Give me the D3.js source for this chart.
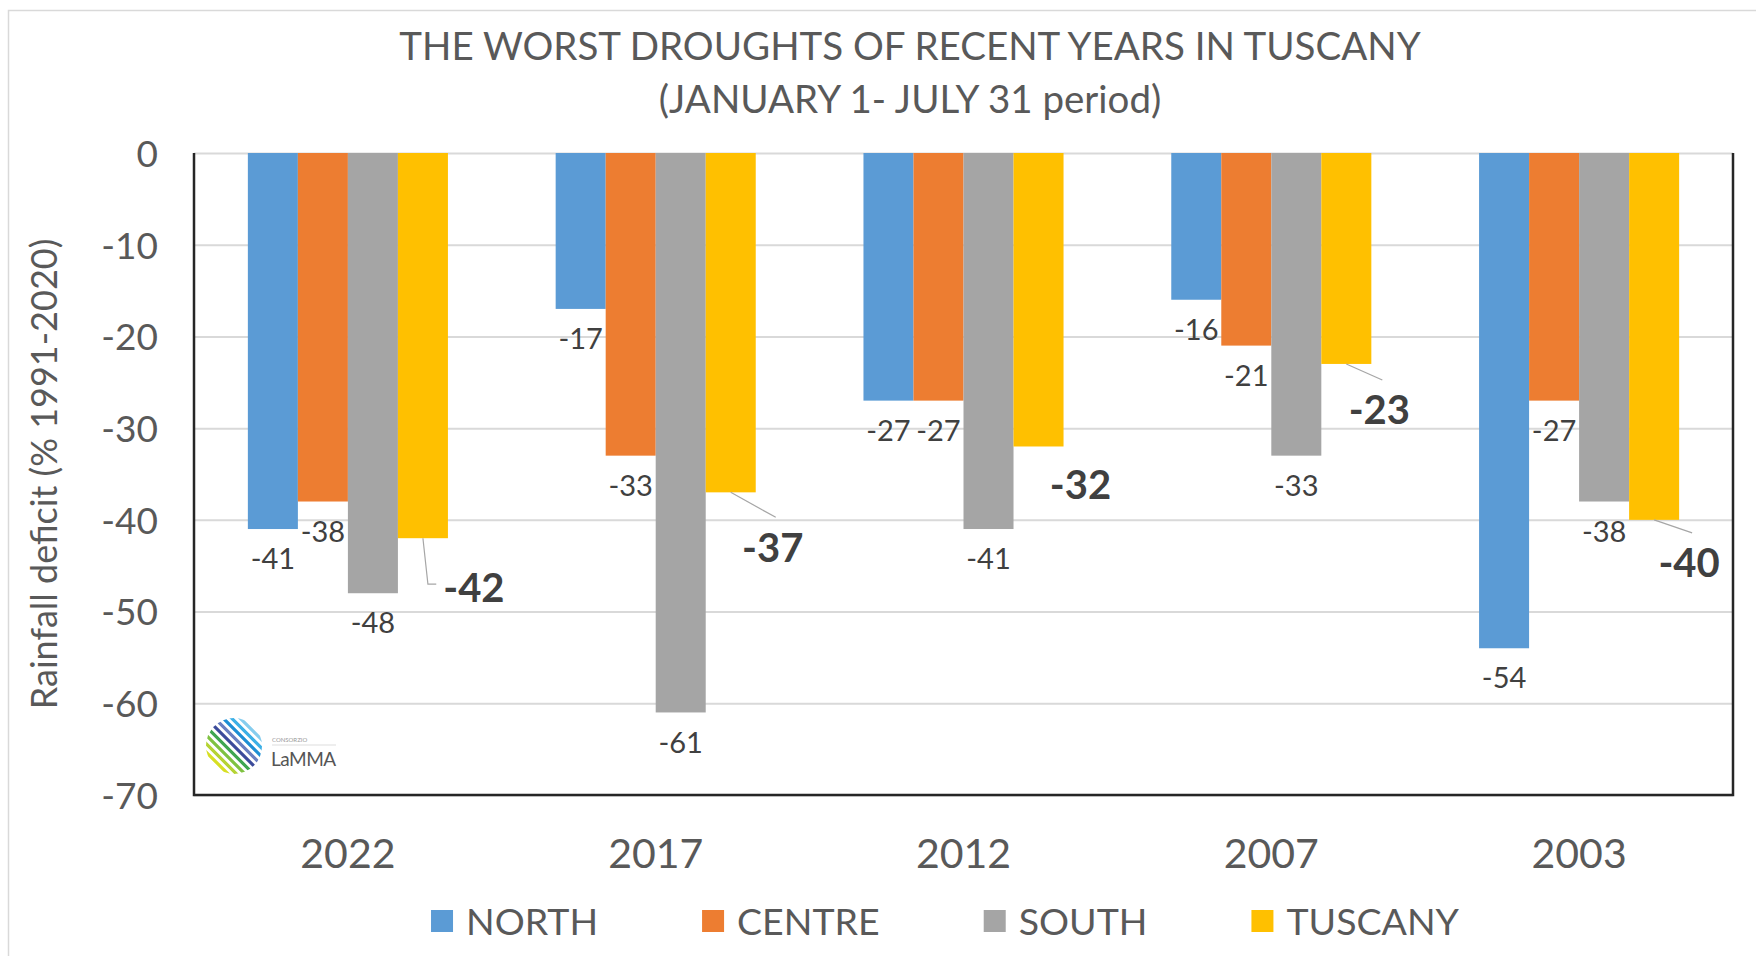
<!DOCTYPE html>
<html>
<head>
<meta charset="utf-8">
<script src="https://cdn.jsdelivr.net/npm/d3@7"></script>
<style>
  body { margin: 0; background: #fff; }
  svg text { font-family: Lato, "Open Sans", sans-serif; }
</style>
</head>
<body>
<div id="chart"></div>
<script>
// Data
const years = ["2022", "2017", "2012", "2007", "2003"];
const series = ["NORTH", "CENTRE", "SOUTH", "TUSCANY"];
const north = [-41, -17, -27, -16, -54];
const centre = [-38, -33, -27, -21, -27];
const south = [-48, -61, -41, -33, -38];
const tuscany = [-42, -37, -32, -23, -40];
const yTicks = [0, -10, -20, -30, -40, -50, -60, -70];
const colors = ["#5B9BD5", "#ED7D31", "#A5A5A5", "#FFC000"];

// Tuscany labels were dragged by hand in the original: shift from bar end
const tuscanyShift = [[51, 49], [42, 55], [42, 38], [33, 46], [35, 43]];
const leaderKind = ["elbow", "straight", "none", "straight", "straight"];

const W = 1756, H = 956;
const margin = { top: 153, right: W - 1733, bottom: H - 795, left: 194 };
const width = W - margin.left - margin.right,
      height = H - margin.top - margin.bottom;

const svg = d3.select("#chart").append("svg")
    .attr("width", W)
    .attr("height", H);

// outer chart frame (only top/left visible in the crop)
svg.append("path")
    .attr("d", "M8.5," + H + "V10.5H" + W)
    .attr("fill", "none")
    .attr("stroke", "#d9d9d9")
    .attr("stroke-width", 1.5);

const g = svg.append("g")
    .attr("transform", "translate(" + margin.left + "," + margin.top + ")");

// Scales
const x0 = d3.scaleBand().domain(years).range([0, width]);
const gw = x0.bandwidth() * 0.65;
const x1 = d3.scaleBand().domain(series)
    .range([(x0.bandwidth() - gw) / 2, (x0.bandwidth() + gw) / 2]);
const y = d3.scaleLinear().domain([-70, 0]).range([height, 0]);

// gridlines
g.append("g")
    .attr("class", "grid")
    .call(d3.axisLeft(y).tickValues(yTicks).tickSize(-width).tickFormat(""))
    .call(s => s.select(".domain").remove())
    .call(s => s.selectAll("line").attr("stroke", "#d9d9d9").attr("stroke-width", 2));

// y tick labels (plain hyphen, like the original)
g.append("g")
    .call(d3.axisLeft(y).tickValues(yTicks).tickSize(0).tickPadding(36).tickFormat(d => String(d)))
    .call(s => s.select(".domain").remove())
    .call(s => s.selectAll("text")
        .attr("fill", "#595959")
        .style("font-size", "37px")
        .attr("dy", "0.36em"));

// bars
const rows = years.map((yr, i) => ({
    year: yr,
    values: [north[i], centre[i], south[i], tuscany[i]].map((v, j) => ({ key: series[j], value: v, idx: j }))
}));

const groups = g.selectAll("g.year")
    .data(rows)
    .join("g")
    .attr("class", "year")
    .attr("transform", d => "translate(" + x0(d.year) + ",0)");

groups.selectAll("rect")
    .data(d => d.values)
    .join("rect")
    .attr("x", d => x1(d.key))
    .attr("y", y(0))
    .attr("width", x1.bandwidth())
    .attr("height", d => y(d.value) - y(0))
    .attr("fill", d => colors[d.idx]);

// plain data labels for the three areas
groups.selectAll("text.lab")
    .data(d => d.values.filter(v => v.key !== "TUSCANY"))
    .join("text")
    .attr("class", "lab")
    .attr("x", d => x1(d.key) + x1.bandwidth() / 2)
    .attr("y", d => y(d.value) + 30)
    .attr("dy", "0.35em")
    .attr("text-anchor", "middle")
    .attr("fill", "#404040")
    .style("font-size", "29px")
    .text(d => d.value);

// bold Tuscany labels with leader lines
groups.each(function(d, i) {
    const grp = d3.select(this);
    const v = d.values[3];
    const bx = x1(v.key) + x1.bandwidth() / 2, by = y(v.value);
    const lx = bx + tuscanyShift[i][0], ly = by + tuscanyShift[i][1];
    const t = grp.append("text")
        .attr("x", lx)
        .attr("y", ly)
        .attr("dy", "0.36em")
        .attr("text-anchor", "middle")
        .attr("fill", "#404040")
        .style("font-size", "40px")
        .style("font-weight", "bold")
        .text(v.value);
    const bb = t.node().getBBox();
    let pts = null;
    if (leaderKind[i] === "elbow") {
        pts = [[bx, by], [bx + 5, ly - 3], [bb.x - 7, ly - 3]];
    } else if (leaderKind[i] === "straight") {
        pts = [[bx, by], [lx + 3, ly - 30]];
    }
    if (pts) {
        grp.insert("path", "text")
            .attr("d", d3.line()(pts))
            .attr("fill", "none")
            .attr("stroke", "#a6a6a6")
            .attr("stroke-width", 1.2);
    }
});

// plot border: left, right, bottom in black
g.append("path")
    .attr("d", "M0,0V" + height + "H" + width + "V0")
    .attr("fill", "none")
    .attr("stroke", "#262626")
    .attr("stroke-width", 2.5);

// x axis labels
g.append("g")
    .attr("transform", "translate(0," + height + ")")
    .call(d3.axisBottom(x0).tickSize(0).tickPadding(0))
    .call(s => s.select(".domain").remove())
    .call(s => s.selectAll("text")
        .attr("y", 73)
        .attr("dy", 0)
        .attr("fill", "#595959")
        .style("font-size", "41px"));

// y axis title
svg.append("text")
    .attr("transform", "translate(57," + (margin.top + height / 2) + ") rotate(-90)")
    .attr("text-anchor", "middle")
    .attr("fill", "#595959")
    .style("font-size", "36px")
    .text("Rainfall deficit (% 1991-2020)");

// title
const title = svg.append("text")
    .attr("text-anchor", "middle")
    .attr("fill", "#595959")
    .style("font-size", "38.5px");
title.append("tspan").attr("x", 910).attr("y", 60)
    .text("THE WORST DROUGHTS OF RECENT YEARS IN TUSCANY");
title.append("tspan").attr("x", 910).attr("y", 113)
    .text("(JANUARY 1- JULY 31 period)");

// legend
const legend = svg.append("g").attr("transform", "translate(0,921)");
const items = legend.selectAll("g")
    .data(series)
    .join("g");
items.append("rect")
    .attr("width", 22)
    .attr("height", 22)
    .attr("y", -11)
    .attr("fill", (d, i) => colors[i]);
items.append("text")
    .attr("x", 35)
    .attr("dy", "0.36em")
    .attr("fill", "#595959")
    .style("font-size", "37.5px")
    .text(d => d);
const gap = 104;
let cx = 0;
const offs = [];
items.each(function() {
    offs.push(cx);
    cx += 35 + d3.select(this).select("text").node().getComputedTextLength() + gap;
});
const total = cx - gap;
items.attr("transform", (d, i) => "translate(" + (945 - total / 2 + offs[i]) + ",0)");

// LaMMA logo (bottom left of the plot)
const logo = svg.append("g").attr("transform", "translate(234,746)");
logo.append("clipPath").attr("id", "logoclip")
    .append("circle").attr("r", 28);
const stripeCols = ["#d7df23", "#b5d334", "#7fc241", "#3fa651", "#3b4a9a", "#6a7fc1", "#1e8fd5", "#3db0e6", "#86cdee"];
const s2 = Math.SQRT1_2;
logo.append("g").attr("clip-path", "url(#logoclip)")
    .selectAll("line")
    .data(stripeCols)
    .join("line")
    .attr("x1", (d, i) => (-24 + i * 6) * s2 - 40 * s2)
    .attr("y1", (d, i) => -(-24 + i * 6) * s2 - 40 * s2)
    .attr("x2", (d, i) => (-24 + i * 6) * s2 + 40 * s2)
    .attr("y2", (d, i) => -(-24 + i * 6) * s2 + 40 * s2)
    .attr("stroke", d => d)
    .attr("stroke-width", 3.2)
    .attr("stroke-linecap", "round");
logo.append("text")
    .attr("x", 38).attr("y", -4)
    .attr("fill", "#999")
    .style("font-size", "6px")
    .text("CONSORZIO");
logo.append("line")
    .attr("x1", 38).attr("x2", 102).attr("y1", -1).attr("y2", -1)
    .attr("stroke", "#ddd");
logo.append("text")
    .attr("x", 37).attr("y", 20)
    .attr("fill", "#555")
    .style("font-size", "19px")
    .style("letter-spacing", "-0.5px")
    .text("LaMMA");
</script>
</body>
</html>
